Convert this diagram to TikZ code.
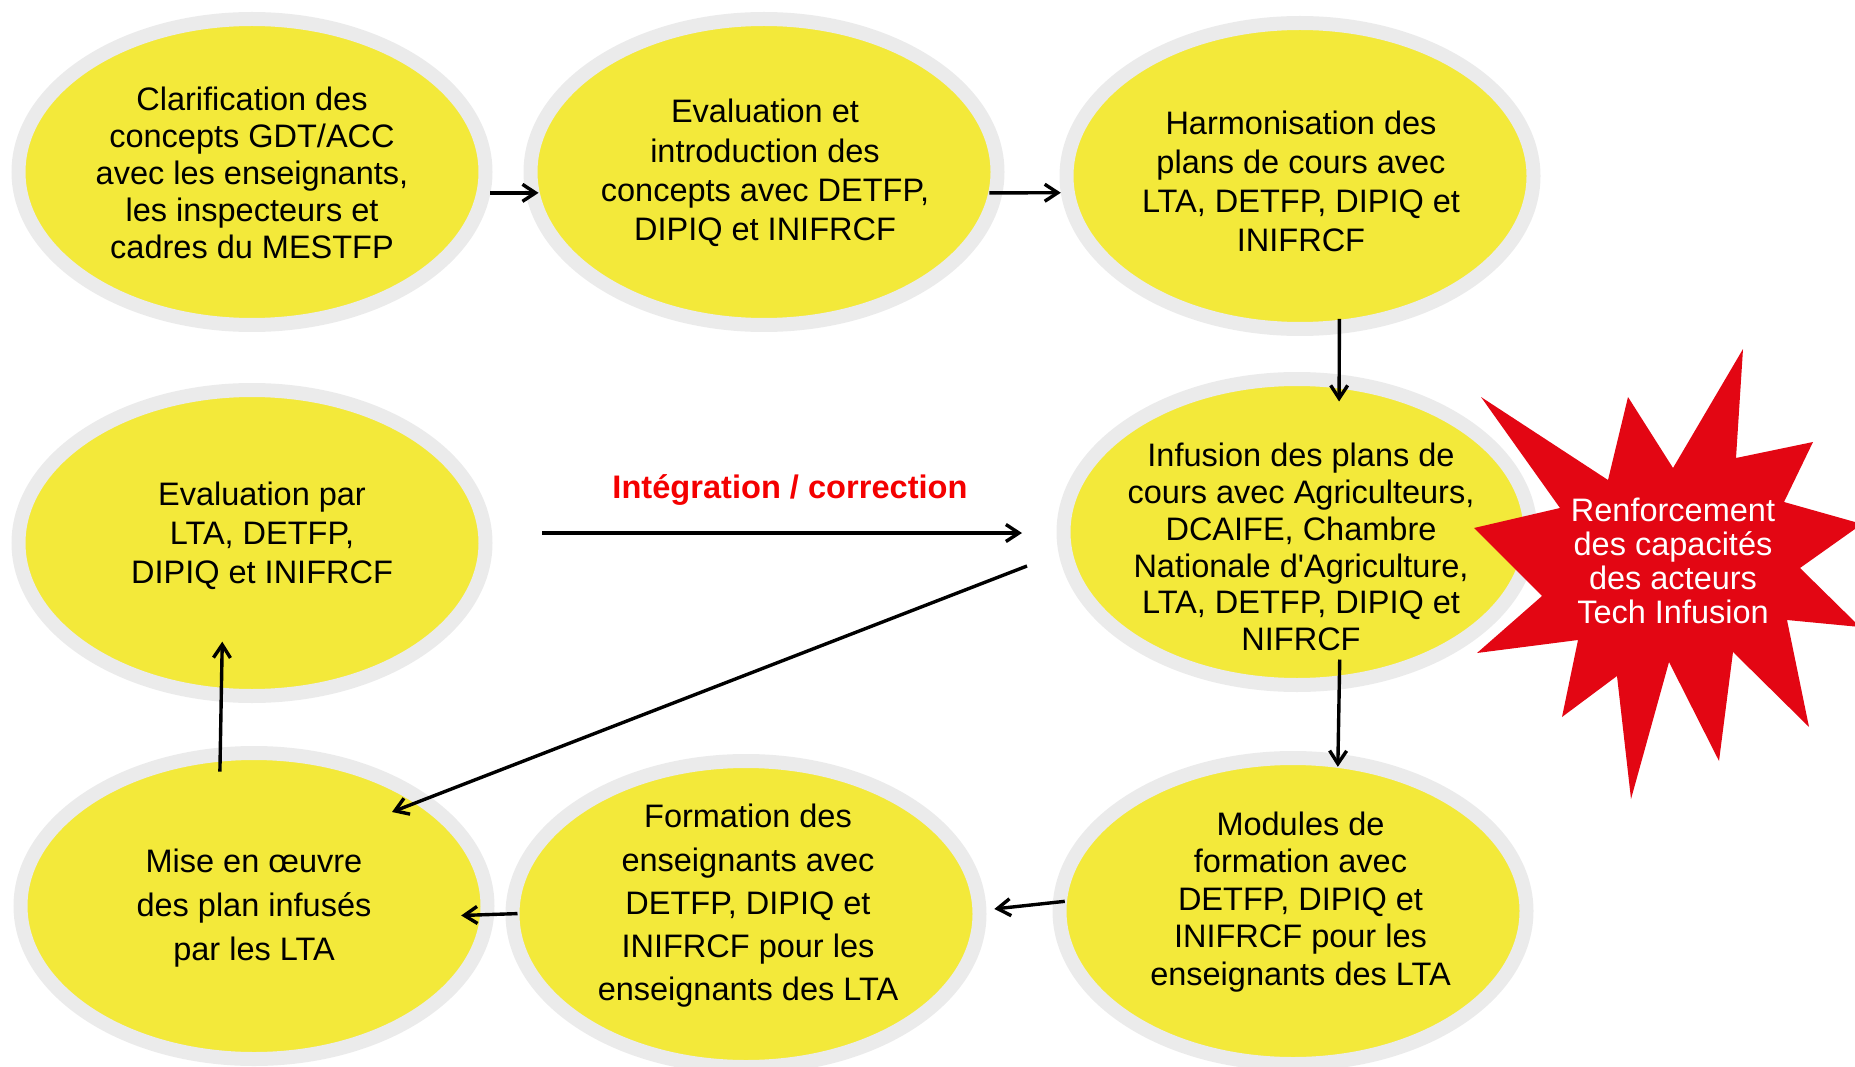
\documentclass[tikz,border=0pt]{standalone}
\usepackage{fontspec}
\setmainfont{Liberation Sans}
\usetikzlibrary{calc,positioning,arrows.meta,shapes.geometric}
\definecolor{ovalyellow}{HTML}{F3E93A}
\definecolor{ovalgray}{HTML}{EBEBEB}
\definecolor{starred}{HTML}{E30613}
\definecolor{lblred}{HTML}{F40000}

\begin{document}
\begin{tikzpicture}[x=1pt, y=-1pt,
 ovl/.style={ellipse, draw=ovalgray, fill=ovalyellow, line width=14pt, minimum width=467pt, minimum height=306pt, inner sep=0pt},
 txt/.style={align=center, inner sep=0pt, font=\fontsize{32.5}{#1}\selectfont},
 arr/.style={line width=3.4pt, -{Straight Barb[length=13pt,width=17pt]}}]
\useasboundingbox (0,0) rectangle (1855,1067);
% ovals
\foreach \n/\x/\y in {e1/252/172, e2/764/172, e3/1300/176, e4/1297/532, e5/252/543, e6/254/906, e7/746/914, e8/1293/911}{\node[ovl] (\n) at (\x,\y) {};}
% arrows
\draw[arr, shorten >=-13pt] (e1.-5) -- (e2.185);
\draw[arr, shorten <=-13pt] (e2.-5) -- (e3.184);
\draw[arr, shorten <=-15pt, shorten >=-27pt] (e3.-76) -- (e4.75);
\draw[arr, shorten <=-30pt, shorten >=-13pt] (e4.-75) -- (e8.74);
\draw[arr, shorten <=-12pt, shorten >=8pt] (e8.178) -- (e7.1);
\draw[arr, shorten <=-12pt, shorten >=-33pt] (e7.180) -- (e6.-2);
\draw[arr, shorten <=-24pt, shorten >=-60pt] (e6.102) -- (e5.-101);
\coordinate (intA) at (542,533);
\coordinate (intB) at (1022,533);
\draw[arr] (intA) -- (intB);
\coordinate (retA) at (1027,566);
\coordinate (retB) at (392,812);
\draw[arr] (retA) -- (retB);
\node[font=\bfseries\fontsize{32.6}{38}\selectfont, text=lblred, anchor=base] (intlbl) at (790,498) {Intégration / correction};
% star
\fill[starred] (1743,349) -- (1736,458) -- (1813,442) -- (1784,502) -- (1862,524) -- (1800,568) -- (1860,627) -- (1787,620) -- (1809,727) -- (1733,652) -- (1719,761) -- (1669,662) -- (1631,799) -- (1617,676) -- (1562,717) -- (1578,640) -- (1477,653) -- (1542,596) -- (1474,528) -- (1560,508) -- (1481,397) -- (1608,480) -- (1628,397) -- (1673,468) -- cycle;
\node[txt=34.2, text=white] (star) at (1673,561) {Renforcement\\des capacités\\des acteurs\\Tech Infusion};
% texts
\node[txt=37] (t1) at (252,172.5) {Clarification des\\concepts GDT/ACC\\avec les enseignants,\\les inspecteurs et\\cadres du MESTFP};
\node[txt=39.4] (t2) at (765,173) {Evaluation et\\introduction des\\concepts avec DETFP,\\DIPIQ et INIFRCF};
\node[txt=38.7] (t3) at (1301,181.4) {Harmonisation des\\plans de cours avec\\LTA, DETFP, DIPIQ et\\INIFRCF};
\node[txt=36.9] (t4) at (1301,547) {Infusion des plans de\\cours avec Agriculteurs,\\DCAIFE, Chambre\\Nationale d\textquotesingle Agriculture,\\LTA, DETFP, DIPIQ et\\NIFRCF};
\node[txt=39] (t5) at (262,535.4) {Evaluation par\\LTA, DETFP,\\DIPIQ et INIFRCF};
\node[txt=43.6] (t6) at (254,908) {Mise en œuvre\\des plan infusés\\par les LTA};
\node[txt=43.25] (t7) at (748,906) {Formation des\\enseignants avec\\DETFP, DIPIQ et\\INIFRCF pour les\\enseignants des LTA};
\node[txt=37.5] (t8) at (1300.5,901.7) {Modules de\\formation avec\\DETFP, DIPIQ et\\INIFRCF pour les\\enseignants des LTA};
\end{tikzpicture}
\end{document}
